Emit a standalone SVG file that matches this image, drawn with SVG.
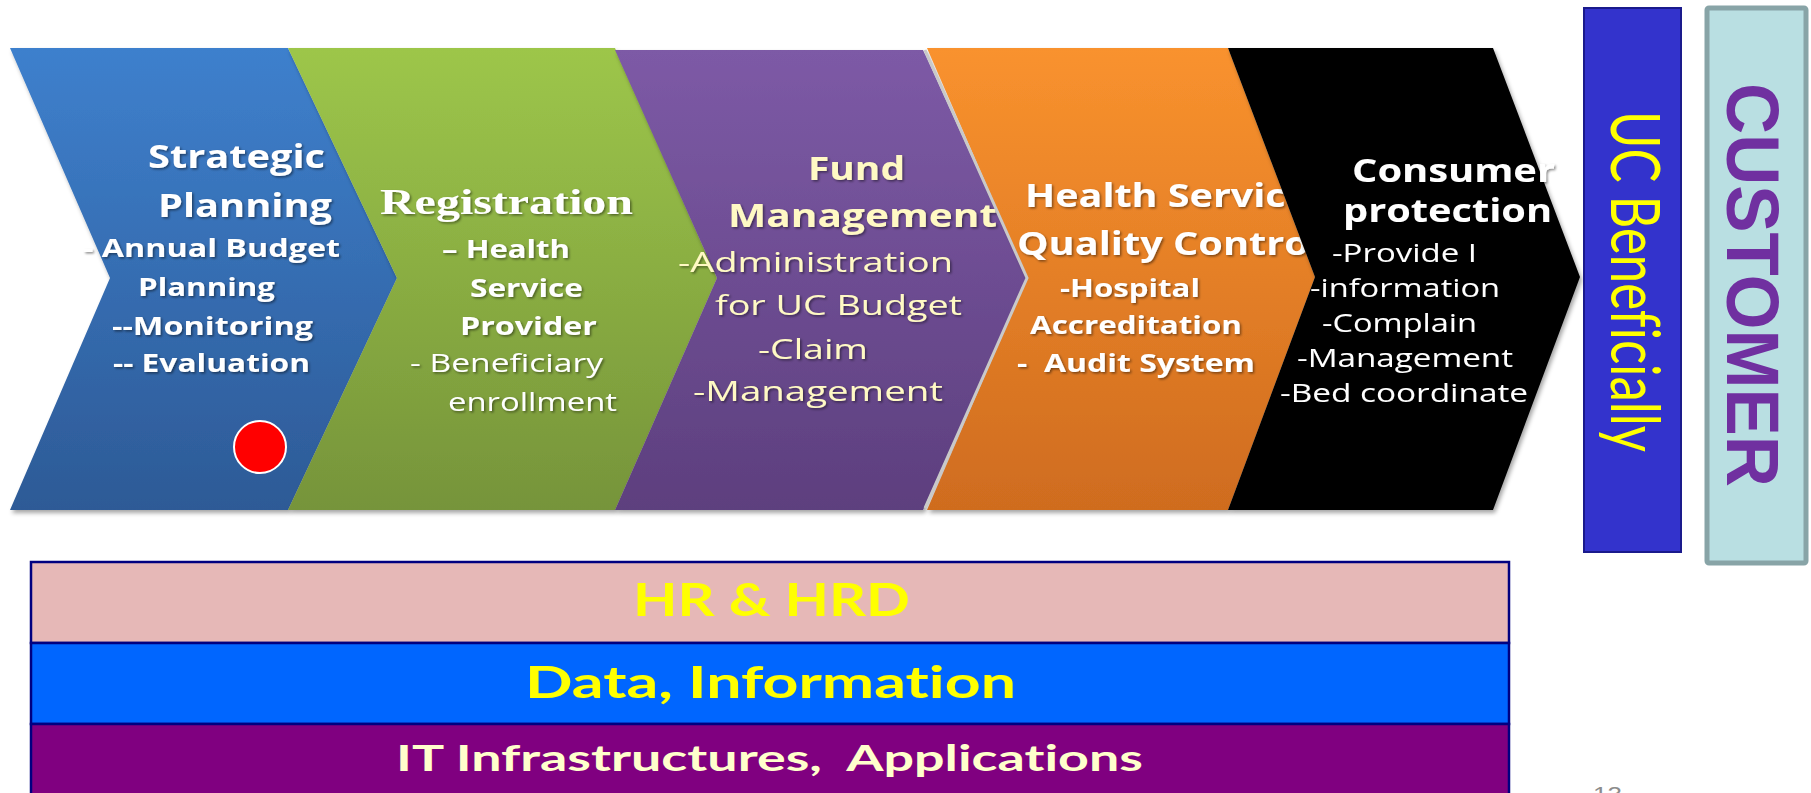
<svg xmlns="http://www.w3.org/2000/svg" width="1811" height="793" viewBox="0 0 1811 793">
  <defs>
    <linearGradient id="gBlue" x1="0" y1="0" x2="0" y2="1">
      <stop offset="0" stop-color="#3e80cd"/>
      <stop offset="1" stop-color="#2d5a96"/>
    </linearGradient>
    <linearGradient id="gGreen" x1="0" y1="0" x2="0" y2="1">
      <stop offset="0" stop-color="#9dc64a"/>
      <stop offset="1" stop-color="#76943a"/>
    </linearGradient>
    <linearGradient id="gPurple" x1="0" y1="0" x2="0" y2="1">
      <stop offset="0" stop-color="#7d5aa6"/>
      <stop offset="1" stop-color="#5d3f7e"/>
    </linearGradient>
    <linearGradient id="gOrange" x1="0" y1="0" x2="0" y2="1">
      <stop offset="0" stop-color="#f9922e"/>
      <stop offset="1" stop-color="#cf6c1f"/>
    </linearGradient>
    <filter id="shapeShadow" x="-5%" y="-5%" width="115%" height="115%">
      <feDropShadow dx="2" dy="3" stdDeviation="2" flood-color="#000" flood-opacity="0.35"/>
    </filter>
    <filter id="textShadow" x="-10%" y="-20%" width="120%" height="150%">
      <feDropShadow dx="1.5" dy="1.5" stdDeviation="1" flood-color="#000" flood-opacity="0.45"/>
    </filter>
    <clipPath id="clipOrange">
      <polygon points="927,48 1228,48 1315,277 1228,510 927,510 1027,278"/>
    </clipPath>
  </defs>
  <style>
    text { white-space: pre; font-variant-ligatures: none; }
    .sans { font-family: "Open Sans", "DejaVu Sans", sans-serif; }
    .hd { font-size: 32px; font-weight: 700; }
    .sb { font-size: 25px; font-weight: 700; }
    .sr { font-size: 25px; font-weight: 400; }
    .pr { font-size: 28px; font-weight: 400; }
    .white { fill: #ffffff; }
    .cream { fill: #fff9c4; }
    .bar { stroke: #000080; stroke-width: 2.5; }
    .barText { font-family: Lato, "Open Sans", sans-serif; font-weight: 700; }
  </style>

  <!-- process chevrons -->
  <g id="strategic-planning">
    <polygon points="10,48 288,48 397,278 288,510 10,510 110,278" fill="url(#gBlue)" filter="url(#shapeShadow)"/>
    <g class="sans white" filter="url(#textShadow)">
      <text class="hd" x="148" y="168" textLength="177" lengthAdjust="spacingAndGlyphs">Strategic</text>
      <text class="hd" x="158" y="217" textLength="174" lengthAdjust="spacingAndGlyphs">Planning</text>
      <text class="sb" x="83" y="257" textLength="257" lengthAdjust="spacingAndGlyphs">- Annual Budget</text>
      <text class="sb" x="138" y="296" textLength="137" lengthAdjust="spacingAndGlyphs">Planning</text>
      <text class="sb" x="112" y="335" textLength="201" lengthAdjust="spacingAndGlyphs">--Monitoring</text>
      <text class="sb" x="113" y="372" textLength="197" lengthAdjust="spacingAndGlyphs">-- Evaluation</text>
    </g>
    <circle cx="260" cy="447" r="26" fill="#ff0000" stroke="#ffffff" stroke-width="2"/>
  </g>

  <g id="registration">
    <polygon points="288,48 615,48 717,278 615,510 288,510 397,278" fill="url(#gGreen)" filter="url(#shapeShadow)"/>
    <g class="white" filter="url(#textShadow)">
      <text x="380" y="214" textLength="253" lengthAdjust="spacingAndGlyphs" font-family="'Liberation Serif', 'Times New Roman', serif" font-weight="700" font-size="36">Registration</text>
      <g class="sans">
        <text class="sb" x="442" y="258" textLength="128" lengthAdjust="spacingAndGlyphs">– Health</text>
        <text class="sb" x="470" y="297" textLength="113" lengthAdjust="spacingAndGlyphs">Service</text>
        <text class="sb" x="460" y="335" textLength="137" lengthAdjust="spacingAndGlyphs">Provider</text>
        <text class="sr" x="410" y="372" textLength="193" lengthAdjust="spacingAndGlyphs">- Beneficiary</text>
        <text class="sr" x="448" y="411" textLength="169" lengthAdjust="spacingAndGlyphs">enrollment</text>
      </g>
    </g>
  </g>

  <g id="fund-management">
    <polygon points="615,50 923,50 1027,278 923,510 615,510 717,278" fill="url(#gPurple)" filter="url(#shapeShadow)"/>
    <g class="sans cream" filter="url(#textShadow)">
      <text class="hd" x="808" y="180" textLength="97" lengthAdjust="spacingAndGlyphs" font-size="31">Fund</text>
      <text class="hd" x="728" y="227" textLength="269" lengthAdjust="spacingAndGlyphs" font-size="31">Management</text>
      <text class="pr" x="678" y="272" textLength="275" lengthAdjust="spacingAndGlyphs">-Administration</text>
      <text class="pr" x="715" y="315" textLength="247" lengthAdjust="spacingAndGlyphs">for UC Budget</text>
      <text class="pr" x="758" y="359" textLength="110" lengthAdjust="spacingAndGlyphs">-Claim</text>
      <text class="pr" x="693" y="401" textLength="250" lengthAdjust="spacingAndGlyphs">-Management</text>
    </g>
  </g>

  <g id="quality-control">
    <polygon points="927,48 1228,48 1315,277 1228,510 927,510 1027,278" fill="url(#gOrange)" filter="url(#shapeShadow)"/>
    <polyline points="925,50 1027,278 925,508" fill="none" stroke="#c9c9c9" stroke-width="3"/>
    <g clip-path="url(#clipOrange)">
      <g class="sans white" filter="url(#textShadow)">
        <text class="hd" x="1025" y="207" textLength="284" lengthAdjust="spacingAndGlyphs">Health Service</text>
        <text class="hd" x="1017" y="255" textLength="304" lengthAdjust="spacingAndGlyphs">Quality Control</text>
        <text class="sb" x="1060" y="297" textLength="140" lengthAdjust="spacingAndGlyphs">-Hospital</text>
        <text class="sb" x="1030" y="334" textLength="212" lengthAdjust="spacingAndGlyphs">Accreditation</text>
        <text class="sb" x="1017" y="372" textLength="238" lengthAdjust="spacingAndGlyphs">-  Audit System</text>
      </g>
    </g>
  </g>

  <g id="consumer-protection">
    <polygon points="1228,48 1493,48 1580,277 1493,510 1228,510 1315,277" fill="#000000" filter="url(#shapeShadow)"/>
    <g class="sans white" filter="url(#textShadow)">
      <text class="hd" x="1352" y="182" textLength="203" lengthAdjust="spacingAndGlyphs">Consumer</text>
      <text class="hd" x="1343" y="222" textLength="209" lengthAdjust="spacingAndGlyphs">protection</text>
      <text class="sr" x="1332" y="262" textLength="145" lengthAdjust="spacingAndGlyphs">-Provide I</text>
      <text class="sr" x="1310" y="297" textLength="190" lengthAdjust="spacingAndGlyphs">-information</text>
      <text class="sr" x="1322" y="332" textLength="155" lengthAdjust="spacingAndGlyphs">-Complain</text>
      <text class="sr" x="1297" y="367" textLength="216" lengthAdjust="spacingAndGlyphs">-Management</text>
      <text class="sr" x="1280" y="402" textLength="248" lengthAdjust="spacingAndGlyphs">-Bed coordinate</text>
    </g>
  </g>

  <!-- outcome boxes on the right -->
  <g id="uc-beneficially">
    <rect x="1584" y="8" width="97" height="544" fill="#3333cc" stroke="#1a1a8c" stroke-width="2"/>
    <text transform="translate(1611,111) rotate(90)" x="0" y="0" textLength="341" lengthAdjust="spacingAndGlyphs" font-family="Lato, 'Open Sans', sans-serif" font-size="68" fill="#ffff00">UC Beneficially</text>
  </g>

  <g id="customer">
    <rect x="1707" y="8" width="99" height="555" fill="#b9dfe2" stroke="#88a4a7" stroke-width="5" rx="2"/>
    <text transform="translate(1727,83) rotate(90)" x="0" y="0" textLength="404" lengthAdjust="spacingAndGlyphs" font-family="'Liberation Sans', Arial, sans-serif" font-weight="700" font-size="74" fill="#7030a0">CUSTOMER</text>
  </g>

  <!-- supporting layers -->
  <g id="hr-hrd">
    <rect class="bar" x="31" y="562" width="1478" height="81" fill="#e6b8b7"/>
    <text class="barText" x="633" y="616" textLength="277" lengthAdjust="spacingAndGlyphs" font-size="46" fill="#ffff00">HR &amp; HRD</text>
  </g>

  <g id="data-information">
    <rect class="bar" x="31" y="643" width="1478" height="81" fill="#0066ff"/>
    <text class="barText" x="525" y="698" textLength="491" lengthAdjust="spacingAndGlyphs" font-size="44" fill="#ffff00">Data, Information</text>
  </g>

  <g id="it-infrastructures">
    <rect class="bar" x="31" y="724" width="1478" height="80" fill="#800080"/>
    <text class="barText" x="396" y="771" textLength="747" lengthAdjust="spacingAndGlyphs" font-size="37" fill="#ffffcc">IT Infrastructures,  Applications</text>
  </g>

  <!-- slide number -->
  <text x="1593" y="802" textLength="29" lengthAdjust="spacingAndGlyphs" font-family="'Liberation Sans', Arial, sans-serif" font-size="22" fill="#8c8c8c">13</text>
</svg>
